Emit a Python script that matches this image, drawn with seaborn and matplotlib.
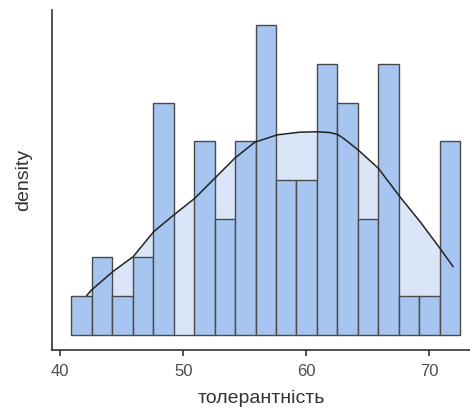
import matplotlib
matplotlib.use("Agg")
import matplotlib.pyplot as plt
import seaborn as sns
import numpy as np

# Histogram: bin edges and counts
bin_edges = list(np.linspace(40.9, 72.5, 20))
counts = [1, 2, 1, 2, 6, 0, 5, 3, 5, 8, 4, 4, 7, 6, 3, 7, 1, 1, 5]

# Smoothed density curve (in count units)
curve_x = [42.13, 42.54, 44.29, 45.92, 47.60, 49.31, 50.93, 52.56, 54.19,
           55.81, 57.63, 59.47, 60.83, 61.91, 62.55, 63.10, 64.21, 65.84,
           67.60, 69.23, 70.85, 71.93]
curve_y = [1.01, 1.16, 1.64, 2.02, 2.67, 3.12, 3.53, 4.05, 4.57,
           4.98, 5.17, 5.24, 5.25, 5.23, 5.18, 5.06, 4.78, 4.31,
           3.57, 2.93, 2.24, 1.76]

x_ticks = [40, 50, 60, 70]

sns.set_style("white")
plt.rcParams['font.family'] = ['Liberation Sans', 'DejaVu Sans']

fig = plt.figure(figsize=(4.7, 4.16), dpi=100)
ax = fig.add_axes([0.11, 0.159, 0.89, 0.817])

ax.fill_between(curve_x, 0, curve_y, color="#dae6f8", zorder=1, linewidth=0)

centers = [(bin_edges[i] + bin_edges[i + 1]) / 2 for i in range(len(counts))]
sns.histplot(x=centers, weights=counts, bins=bin_edges, ax=ax,
             color="#a7c5f1", alpha=1, edgecolor="#4a4a4a", linewidth=1.0,
             zorder=2)

sns.lineplot(x=curve_x, y=curve_y, ax=ax, color="#222222", linewidth=1.1,
             zorder=3)

ax.set_xlim(39.3, 73.3)
ax.set_ylim(-0.39, 8.4)
ax.set_xticks(x_ticks)
ax.set_xticklabels([str(t) for t in x_ticks])
ax.set_yticks([])
ax.tick_params(axis="x", length=4, width=1.2, color="#333333",
               labelcolor="#4d4d4d", labelsize=12, pad=6, bottom=True)
ax.set_xlabel("толерантність", fontsize=14, color="#333333", labelpad=8)
ax.set_ylabel("density", fontsize=14, color="#333333", labelpad=14)

for side in ["top", "right"]:
    ax.spines[side].set_visible(False)
for side in ["left", "bottom"]:
    ax.spines[side].set_color("#333333")
    ax.spines[side].set_linewidth(1.2)

fig.savefig("out.png", dpi=100)
